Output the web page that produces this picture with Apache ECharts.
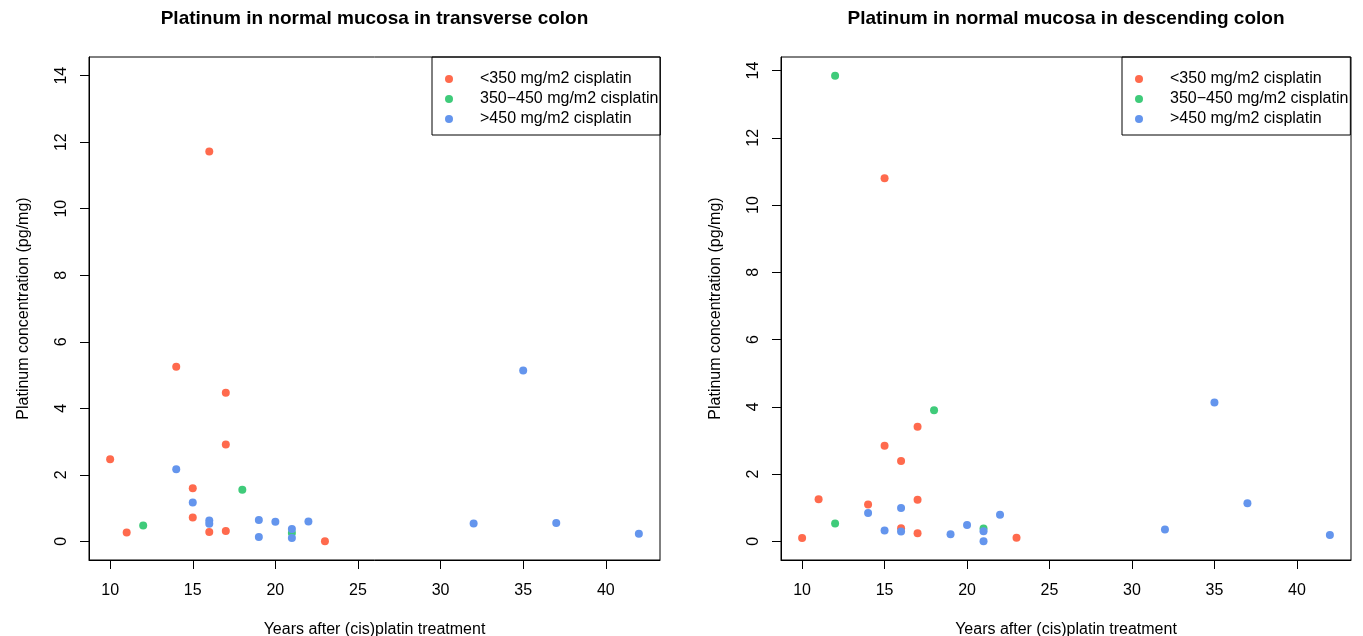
<!DOCTYPE html>
<html>
<head>
<meta charset="utf-8">
<script src="https://cdn.jsdelivr.net/npm/echarts@6/dist/echarts.min.js"></script>
<style>
html,body{margin:0;padding:0;background:#fff;overflow:hidden;}
#chart{width:1363px;height:636px;}
</style>
</head>
<body>
<div id="chart"></div>
<script>
// ---- data ----
const groupNames = ['<350 mg/m2 cisplatin', '350\u2212450 mg/m2 cisplatin', '>450 mg/m2 cisplatin'];
const groupColors = ['#FF6A4D', '#3FCB7A', '#6495ED'];
const panelTitles = ['Platinum in normal mucosa in transverse colon', 'Platinum in normal mucosa in descending colon'];
const xTicks = [10, 15, 20, 25, 30, 35, 40];
const yTicks = [0, 2, 4, 6, 8, 10, 12, 14];

// transverse colon
const transLowX  = [10, 11, 14, 15, 15, 16, 16, 17, 17, 17, 23];
const transLowY  = [2.47, 0.27, 5.25, 1.60, 0.72, 11.72, 0.28, 4.47, 2.91, 0.31, 0.00];
const transMidX  = [12, 18, 21];
const transMidY  = [0.48, 1.55, 0.25];
const transHighX = [14, 15, 16, 16, 19, 19, 20, 21, 21, 22, 32, 35, 37, 42];
const transHighY = [2.17, 1.17, 0.63, 0.53, 0.64, 0.13, 0.59, 0.37, 0.10, 0.60, 0.54, 5.14, 0.55, 0.23];

// descending colon
const descLowX  = [10, 11, 14, 15, 15, 16, 16, 17, 17, 17, 23];
const descLowY  = [0.10, 1.25, 1.10, 10.80, 2.84, 2.39, 0.39, 3.41, 1.24, 0.24, 0.11];
const descMidX  = [12, 12, 18, 21];
const descMidY  = [13.85, 0.53, 3.90, 0.38];
const descHighX = [14, 15, 16, 16, 19, 20, 21, 21, 22, 32, 35, 37, 42];
const descHighY = [0.84, 0.32, 0.99, 0.29, 0.21, 0.49, 0.30, 0.00, 0.79, 0.35, 4.13, 1.13, 0.19];

// ---- build ----
const FONT = '"Liberation Sans", Arial, Helvetica, sans-serif';
const zip = (xs, ys) => xs.map((x, i) => [x, ys[i]]);
const panels = [
  [zip(transLowX, transLowY), zip(transMidX, transMidY), zip(transHighX, transHighY)],
  [zip(descLowX, descLowY), zip(descMidX, descMidY), zip(descHighX, descHighY)]
];
const gridLeft = [89, 781];
const gridWidth = [571, 570];
const yRange = [[-0.56, 14.56], [-0.554, 14.404]];

const xAxes = [], yAxes = [], grids = [], series = [], titles = [], legends = [];
for (let p = 0; p < 2; p++) {
  grids.push({left: gridLeft[p], top: 57, width: gridWidth[p], height: 503,
    containLabel: false, outerBoundsMode: 'none',
    show: true, borderColor: '#000', borderWidth: 1, backgroundColor: 'transparent'});
  xAxes.push({
    gridIndex: p, type: 'value', min: 8.72, max: 43.28,
    name: 'Years after (cis)platin treatment', nameLocation: 'middle', nameGap: 62,
    nameTextStyle: {fontSize: 16, color: '#000', fontFamily: FONT},
    axisLine: {show: true, onZero: false, lineStyle: {color: '#000', width: 1}},
    axisTick: {show: true, inside: false, length: 9, customValues: xTicks, lineStyle: {color: '#000'}},
    axisLabel: {show: true, customValues: xTicks, margin: 23, fontSize: 16, color: '#000', fontFamily: FONT},
    splitLine: {show: false}
  });
  yAxes.push({
    gridIndex: p, type: 'value', min: yRange[p][0], max: yRange[p][1],
    name: 'Platinum concentration (pg/mg)', nameLocation: 'middle', nameGap: 57,
    nameTextStyle: {fontSize: 16, color: '#000', fontFamily: FONT},
    axisLine: {show: true, onZero: false, lineStyle: {color: '#000', width: 1}},
    axisTick: {show: true, inside: false, length: 9, customValues: yTicks, lineStyle: {color: '#000'}},
    axisLabel: {show: true, customValues: yTicks, rotate: 90, margin: 19, fontSize: 16, color: '#000', fontFamily: FONT},
    splitLine: {show: false}
  });
  titles.push({
    text: panelTitles[p], left: gridLeft[p] + gridWidth[p] / 2, top: 9, padding: 0, textAlign: 'center',
    textStyle: {fontSize: 19, fontWeight: 'bold', color: '#000', fontFamily: FONT}
  });
  legends.push({
    left: p === 0 ? 432 : 1122, top: 57, orient: 'vertical',
    data: groupNames.map(n => ({name: n, icon: 'circle'})),
    selectedMode: false,
    borderColor: '#000', borderWidth: 1, borderRadius: 0,
    padding: [14, 2, 8, 13], itemGap: 4, itemWidth: 8, itemHeight: 8,
    textStyle: {fontSize: 16, color: '#000', fontFamily: FONT, padding: [0, 0, 0, 22]}
  });
  for (let g = 0; g < 3; g++) {
    series.push({
      type: 'scatter', name: groupNames[g], xAxisIndex: p, yAxisIndex: p,
      data: panels[p][g], symbol: 'circle', symbolSize: 8,
      itemStyle: {color: groupColors[g], opacity: 1}, emphasis: {disabled: true},
      animation: false
    });
  }
}

const chart = echarts.init(document.getElementById('chart'), null, {renderer: 'canvas'});
chart.setOption({
  animation: false,
  backgroundColor: '#fff',
  color: groupColors,
  title: titles,
  legend: legends,
  grid: grids,
  xAxis: xAxes,
  yAxis: yAxes,
  series: series
});
</script>
</body>
</html>
